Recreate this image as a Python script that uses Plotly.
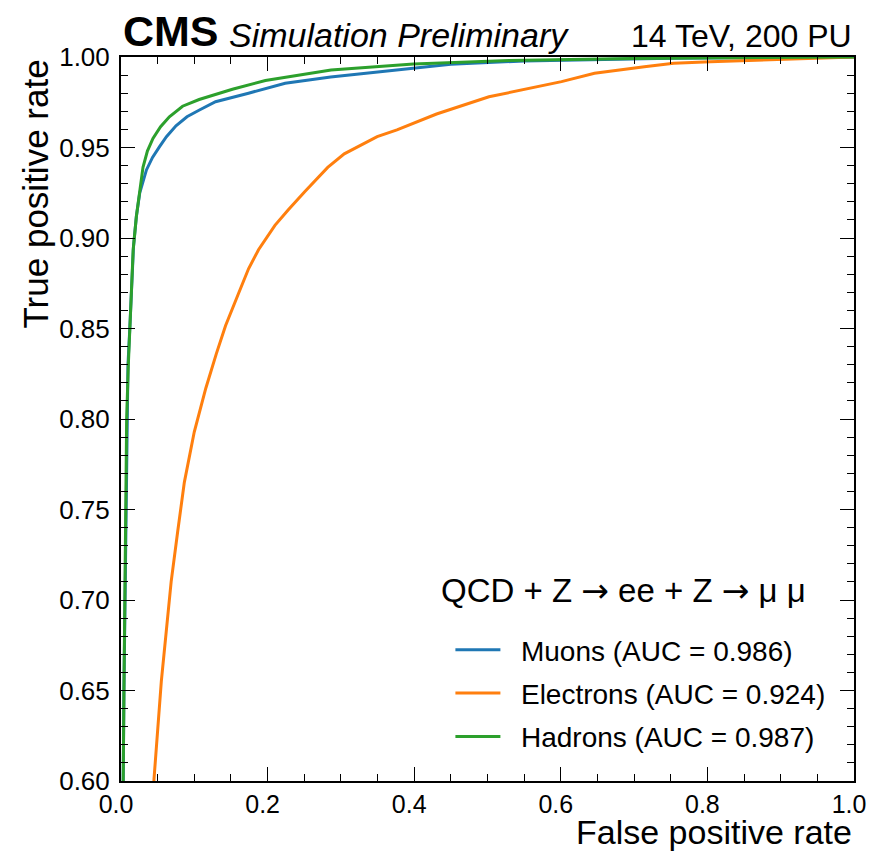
import plotly.graph_objects as go

# ROC curves (false positive rate, true positive rate)
muon_fpr = [0.0, 0.002, 0.004, 0.0054, 0.0065, 0.0077, 0.0095, 0.012, 0.0144, 0.017, 0.021, 0.0256,
            0.0347, 0.043, 0.0526, 0.062, 0.075, 0.090, 0.107, 0.129, 0.174, 0.224, 0.286, 0.394, 0.45,
            0.55, 0.75, 1.0]
muon_tpr = [0.0, 0.55, 0.65, 0.70, 0.75, 0.80, 0.83, 0.85, 0.87, 0.895, 0.912, 0.925,
            0.9376, 0.9445, 0.9505, 0.9560, 0.9620, 0.9670, 0.9707, 0.9753, 0.980, 0.9855, 0.989, 0.9938, 0.9960,
            0.9978, 0.9993, 1.0]

ele_fpr = [0.0, 0.04, 0.045, 0.0495, 0.055, 0.0617, 0.0684, 0.0773, 0.0864, 0.0999, 0.1157, 0.130,
           0.1426, 0.1595, 0.174, 0.1876, 0.210, 0.228, 0.2506, 0.282, 0.3046, 0.3495, 0.3765,
           0.4305, 0.502, 0.601, 0.646, 0.714, 0.754, 0.804, 0.916, 1.0]
ele_tpr = [0.0, 0.55, 0.601, 0.627, 0.655, 0.6825, 0.710, 0.7377, 0.765, 0.7928, 0.8170, 0.836,
           0.8515, 0.8685, 0.883, 0.8935, 0.907, 0.9155, 0.9256, 0.939, 0.9465, 0.956, 0.9597,
           0.9685, 0.978, 0.9864, 0.9910, 0.9946, 0.9965, 0.9974, 0.9989, 1.0]

had_fpr = [0.0, 0.002, 0.004, 0.0054, 0.0065, 0.0077, 0.010, 0.012, 0.014, 0.0166, 0.021, 0.0256,
           0.030, 0.036, 0.0436, 0.054, 0.066, 0.084, 0.1066, 0.152, 0.197, 0.2866, 0.399, 0.529, 0.70, 1.0]
had_tpr = [0.0, 0.55, 0.65, 0.70, 0.75, 0.80, 0.83, 0.85, 0.87, 0.8935, 0.912, 0.927,
           0.939, 0.948, 0.955, 0.9615, 0.9670, 0.9728, 0.9765, 0.9822, 0.9870, 0.9928, 0.9961, 0.998, 0.9992, 1.0]

names = ["Muons (AUC = 0.986)", "Electrons (AUC = 0.924)", "Hadrons (AUC = 0.987)"]
colors = ["#1f77b4", "#ff7f0e", "#2ca02c"]

x_ticks = [0.0, 0.2, 0.4, 0.6, 0.8, 1.0]
y_ticks = [0.60, 0.65, 0.70, 0.75, 0.80, 0.85, 0.90, 0.95, 1.00]

FONT = "Liberation Sans, Arial, Helvetica, sans-serif"
NBSP = "\u00a0"

fig = go.Figure()
for i, (xs, ys) in enumerate([(muon_fpr, muon_tpr), (ele_fpr, ele_tpr), (had_fpr, had_tpr)]):
    fig.add_trace(go.Scatter(x=xs, y=ys, mode="lines", name=NBSP * 2 + names[i],
                             line=dict(color=colors[i], width=3), legendgroup=str(i)))

axis_common = dict(showgrid=False, zeroline=False, showline=True, linecolor="black", linewidth=2,
                   mirror="allticks", ticks="inside", ticklen=14, tickwidth=1.3, tickcolor="black")

fig.update_xaxes(range=[0, 1], tickvals=x_ticks, ticktext=[f"{v:.1f}" for v in x_ticks],
                 tickfont=dict(family=FONT, size=25, color="black"), ticklabelshift=-5,
                 minor=dict(ticks="inside", ticklen=7, tickwidth=1.1, tickcolor="black", dtick=0.05, showgrid=False),
                 **axis_common)
fig.update_yaxes(range=[0.6, 1.0], tickvals=y_ticks, ticktext=[f"{v:.2f}" for v in y_ticks],
                 tickfont=dict(family=FONT, size=26, color="black"), ticklabelstandoff=4,
                 minor=dict(ticks="inside", ticklen=7, tickwidth=1.1, tickcolor="black", dtick=0.01, showgrid=False),
                 **axis_common)

ARROW = '<span style="font-family:DejaVu Sans">\u2192</span>'

annotations = [
    dict(text="<b>CMS</b>", x=0.0, y=1.0, xref="paper", yref="paper", xanchor="left", yanchor="bottom",
         yshift=0, showarrow=False, font=dict(family=FONT, size=43, color="black")),
    dict(text="<i>Simulation Preliminary</i>", x=(228 - 121) / 741, y=1.0, xref="paper", yref="paper",
         xanchor="left", yanchor="bottom", yshift=1, showarrow=False, font=dict(family=FONT, size=34, color="black")),
    dict(text="14 TeV, 200 PU", x=1.0, y=1.0, xref="paper", yref="paper", xanchor="right", yanchor="bottom",
         yshift=1, showarrow=False, font=dict(family=FONT, size=32, color="black")),
    dict(text="True positive rate", x=-0.116, y=1.0, xref="paper", yref="paper", xanchor="center",
         yanchor="top", textangle=-90, showarrow=False, font=dict(family=FONT, size=35, color="black")),
    dict(text="False positive rate", x=1.0, y=-0.0704, xref="paper", yref="paper", xanchor="right",
         yanchor="middle", showarrow=False, font=dict(family=FONT, size=34, color="black")),
    dict(text="QCD + Z " + ARROW + " ee + Z " + ARROW + " \u03bc \u03bc", x=(629 - 121) / 741,
         y=(781 - 590) / 724, xref="paper", yref="paper", xanchor="center", yanchor="middle",
         showarrow=False, font=dict(family=FONT, size=33, color="black")),
]

# The page body keeps its default 8 px margin, so the figure is sized to fit the 886x852 window.
fig.update_layout(
    width=870, height=844,
    margin=dict(l=113, r=16, t=49, b=71),
    paper_bgcolor="white", plot_bgcolor="white",
    font=dict(family=FONT, color="black"),
    annotations=annotations,
    showlegend=True,
    legend=dict(x=(454 - 121) / 741, y=(781 - 625) / 724, xanchor="left", yanchor="top",
                bgcolor="rgba(0,0,0,0)", font=dict(family=FONT, size=28, color="black"),
                itemwidth=45, tracegroupgap=4, traceorder="grouped"),
)

fig.write_html("out.html", config={"displayModeBar": False})
